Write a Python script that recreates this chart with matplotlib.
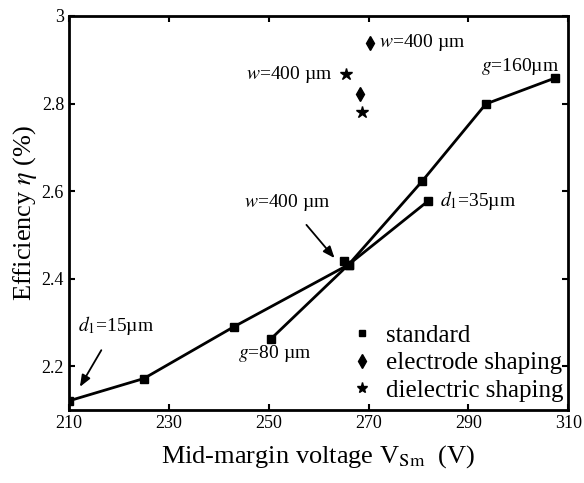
import matplotlib.pyplot as plt
from matplotlib.lines import Line2D

plt.rcParams['font.family'] = 'Liberation Serif'
plt.rcParams['mathtext.fontset'] = 'stix'

# standard structure, d1 sweep and g sweep (they share the middle point)
d1_x = [210, 225, 243, 266, 282]
d1_y = [2.121, 2.172, 2.290, 2.432, 2.578]
g_x = [250.5, 266, 280.7, 293.5, 307.3]
g_y = [2.263, 2.432, 2.622, 2.799, 2.858]
w_std_x = [265]
w_std_y = [2.441]
# electrode shaping and dielectric shaping
elec_x = [270.2, 268.2]
elec_y = [2.938, 2.822]
diel_x = [265.5, 268.7]
diel_y = [2.868, 2.780]

fig = plt.figure(figsize=(5.84, 4.83), dpi=100)
ax = fig.add_axes([0.118, 0.151, 0.855, 0.816])

ax.plot(d1_x, d1_y, 'k-s', lw=2, ms=6)
ax.plot(g_x, g_y, 'k-s', lw=2, ms=6)
ax.plot(w_std_x, w_std_y, 'ks', ms=6)
ax.plot(elec_x, elec_y, 'kd', ms=7)
ax.plot(diel_x, diel_y, 'k*', ms=9)

ax.set_xlim(210, 310)
ax.set_ylim(2.1, 3.0)
ax.set_xticks([210, 230, 250, 270, 290, 310])
ax.set_yticks([2.2, 2.4, 2.6, 2.8, 3.0])
ax.set_yticklabels(['2.2', '2.4', '2.6', '2.8', '3'])
ax.tick_params(direction='in', top=True, right=True, length=4, width=1.5,
               labelsize=13)
for s in ax.spines.values():
    s.set_linewidth(2)

ax.set_xlabel(r'Mid-margin voltage V$_{\rm Sm}$  (V)', fontsize=19, labelpad=8)
ax.set_ylabel(r'Efficiency $\eta$ (%)', fontsize=19, labelpad=2)

fs = 14
arrow = dict(arrowstyle='-|>,head_length=0.5,head_width=0.2', color='k',
             lw=1.3, shrinkA=9, shrinkB=0)
ax.annotate(r'$d_{\rm 1}$=15µm', xy=(212.2, 2.153), xytext=(211.8, 2.294),
            fontsize=fs, ha='left', va='center', arrowprops=arrow)
ax.text(243.8, 2.230, r'$g$=80 µm', fontsize=fs, ha='left', va='center')
ax.annotate(r'$w$=400 µm', xy=(263.2, 2.447), xytext=(253.7, 2.575),
            fontsize=fs, ha='center', va='center', arrowprops=arrow)
ax.text(262.8, 2.866, r'$w$=400 µm', fontsize=fs, ha='right', va='center')
ax.text(272.2, 2.939, r'$w$=400 µm', fontsize=fs, ha='left', va='center')
ax.text(308.2, 2.884, r'$g$=160µm', fontsize=fs, ha='right', va='center')
ax.text(284.4, 2.578, r'$d_{\rm 1}$=35µm', fontsize=fs, ha='left', va='center')

handles = [Line2D([], [], color='k', marker='s', ls='none', ms=5),
           Line2D([], [], color='k', marker='d', ls='none', ms=7),
           Line2D([], [], color='k', marker='*', ls='none', ms=8)]
ax.legend(handles, ['standard', 'electrode shaping', 'dielectric shaping'],
          loc='lower right', bbox_to_anchor=(1.03, -0.03), frameon=False,
          fontsize=18, handlelength=0.8, handletextpad=0.55,
          labelspacing=0.2, borderpad=0.3)

fig.savefig('out.png', dpi=100)
